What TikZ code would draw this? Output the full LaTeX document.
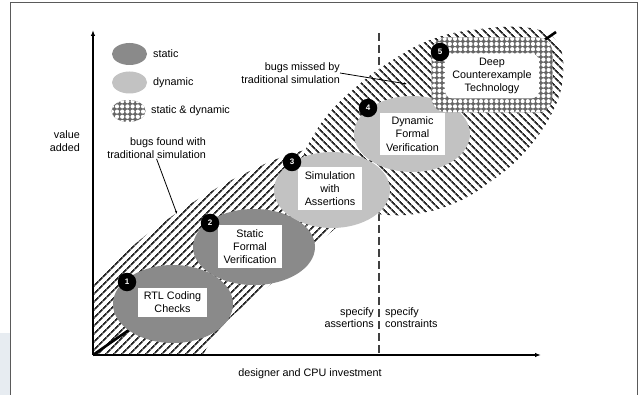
\documentclass[tikz,border=0pt]{standalone}
\usepackage{fontspec}
\setmainfont{Liberation Sans}
\usetikzlibrary{patterns,patterns.meta,arrows.meta,shapes.geometric}
\definecolor{statc}{RGB}{138,138,138}
\definecolor{dync}{RGB}{194,194,194}
\definecolor{edgebg}{RGB}{231,236,241}
\definecolor{framec}{RGB}{90,90,90}
\pgfdeclarepatternformonly{bigdots}{\pgfqpoint{-1pt}{-1pt}}{\pgfqpoint{6pt}{6pt}}{\pgfqpoint{5.2pt}{5.2pt}}{\pgfpathcircle{\pgfqpoint{2.6pt}{2.6pt}}{2.1pt}\pgfusepath{fill}}
\begin{document}
\begin{tikzpicture}[x=1pt,y=-1pt,
  every node/.style={font=\fontsize{10.8}{13.2}\selectfont, inner sep=0pt},
  hatchA/.style={preaction={fill=white}, pattern={Lines[angle=45,distance=5.4pt,line width=1.7pt]}, pattern color=black!85},
  hatchB/.style={preaction={fill=white}, pattern={Lines[angle=-45,distance=5.4pt,line width=1.7pt]}, pattern color=black!85},
  ell/.style={ellipse, draw=none},
  wbox/.style={rectangle, fill=white, align=center},
  badge/.style={circle, fill=black, text=white, minimum size=18.5pt, font=\fontsize{8}{8}\selectfont\bfseries},
  dots/.style={preaction={fill=black!60}, pattern=bigdots, pattern color=white},
  axis/.style={line width=1.3pt, -{Latex[length=6pt,width=4.5pt]}},
  leader/.style={line width=0.8pt, -{Latex[length=3pt,width=2.5pt]}},
  lbl/.style={align=right, font=\fontsize{10.8}{13.5}\selectfont}
]
\useasboundingbox (0,0) rectangle (642,395);
\fill[white] (0,0) rectangle (642,395);
\fill[edgebg] (0,333) rectangle (10,395);
\draw[framec, line width=1.1pt] (10.5,395) -- (10.5,2.5) -- (637.5,2.5) -- (637.5,395);

% coordinates
\coordinate (O) at (93,355);
\coordinate (ytip) at (93,30);
\coordinate (xtip) at (541,355);
\coordinate (dtop) at (379,33);
\coordinate (dbot) at (379,355);
\coordinate (diagend) at (556,32);

% dashed divider
\draw[black!75, line width=1.1pt, dash pattern=on 8pt off 4pt] (dtop) -- (dbot);

% hatched regions
\path[hatchA] (93,355) -- plot[smooth, tension=0.7] coordinates {(93,284) (128,250) (168,219) (210,192) (250,171) (285,156) (318,148) (345,150) (364,168) (360,198) (344,220) (318,243) (272,283) (225,323) (203,355)} -- cycle;
\path[hatchB] plot[smooth cycle, tension=0.7] coordinates {(305,190) (303,160) (312,138) (330,112) (355,88) (385,65) (430,40) (480,29) (530,28) (557,42) (563,75) (552,113) (524,153) (490,182) (455,203) (415,214) (378,214) (340,205)};

% axes
\draw[axis] (O) -- (ytip);
\draw[axis] (O) -- (xtip);

% thick diagonal
\draw[line width=2.6pt] (O) -- (diagend);

% ellipses
\node[ell, fill=statc, minimum width=120pt, minimum height=78pt] (e1) at (173,304) {};
\node[ell, fill=statc, minimum width=122pt, minimum height=76pt] (e2) at (254,247) {};
\node[ell, fill=dync, minimum width=116pt, minimum height=76pt] (e3) at (332,190) {};
\node[ell, fill=dync, minimum width=116pt, minimum height=76pt] (e4) at (412,134) {};
\node[rectangle, rounded corners=15pt, dots, minimum width=121pt, minimum height=75pt] (s5) at (492,75) {};

% boxes
\node[wbox, minimum width=69pt, minimum height=29pt] (box1) at (172.5,302.5) {RTL Coding\\Checks};
\node[wbox, minimum width=64pt, minimum height=43pt] (box2) at (250,246.5) {Static\\Formal\\Verification};
\node[wbox, minimum width=64pt, minimum height=43pt] (box3) at (330,188.5) {Simulation\\with\\Assertions};
\node[wbox, minimum width=65pt, minimum height=42pt] (box4) at (412.5,134) {Dynamic\\Formal\\Verification};
\node[wbox, rounded corners=8pt, minimum width=94pt, minimum height=45pt] (box5) at (492,76) {Deep\\Counterexample\\Technology};

% badges
\node[badge] (b1) at (127,282) {1};
\node[badge] (b2) at (210,223) {2};
\node[badge] (b3) at (292,162) {3};
\node[badge] (b4) at (368,108) {4};
\node[badge] (b5) at (440,52) {5};

% legend
\node[ell, fill=statc, minimum width=35pt, minimum height=22pt] (lst) at (129.5,54) {};
\node[ell, fill=dync, minimum width=35pt, minimum height=22pt] (ldy) at (129.5,82.5) {};
\node[ell, dots, minimum width=34pt, minimum height=22pt] (lsd) at (128.5,111) {};
\node[anchor=west] (tst) at (153,54) {static};
\node[anchor=west] (tdy) at (153,82.5) {dynamic};
\node[anchor=west] (tsd) at (151,111) {static \& dynamic};

% labels
\node[lbl, anchor=east] (value) at (80,141) {value\\added};
\node[lbl, anchor=east] (found) at (206,148) {bugs found with\\traditional simulation};
\node[lbl, anchor=east] (missed) at (340,73) {bugs missed by\\traditional simulation};
\node[lbl, anchor=east, font=\fontsize{10.8}{12}\selectfont] (sa) at (374,318) {specify\\assertions};
\node[lbl, anchor=west, align=left, font=\fontsize{10.8}{12}\selectfont] (sc) at (385,318) {specify\\constraints};
\node (xlab) at (310,374) {designer and CPU investment};

\coordinate (fend) at (177,214);
\coordinate (mend) at (407,84);
\draw[leader] (found.south) -- (fend);
\draw[leader] (missed.east) -- (mend);
\end{tikzpicture}
\end{document}
